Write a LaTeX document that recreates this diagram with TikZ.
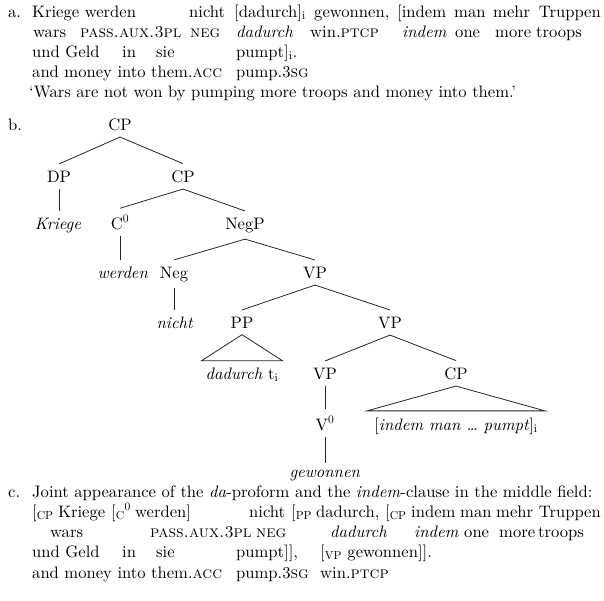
\documentclass[tikz,border=0pt]{standalone}
\usepackage{fontspec}
\setmainfont{lmroman10-regular.otf}[Ligatures=TeX,
  ItalicFont=lmroman10-italic.otf,
  BoldFont=lmroman10-bold.otf,
  SmallCapsFont=lmromancaps10-regular.otf]
\usetikzlibrary{calc}
\begin{document}
\begin{tikzpicture}[x=1pt,y=-1pt,
  every node/.style={font=\fontsize{16.6}{20}\selectfont, inner sep=0pt},
  w/.style={anchor=base west},
  e/.style={anchor=base east},
  t/.style={anchor=base, inner xsep=2pt, inner ysep=6.5pt},
  br/.style={line width=0.8pt, draw=black!85}]
\useasboundingbox (0,0) rectangle (604,600);

% ---- (a)
\node[w] (la) at (8,17) {a.};
\node[w] (a11) at (32,17) {Kriege werden};
\node[w] (a12) at (189,17) {nicht};
\node[w] (a13) at (234,17) {[dadurch]\textsubscript{i}};
\node[w] (a14) at (314,17) {gewonnen,};
\node[w] (a15) at (397,17) {[indem};
\node[w] (a16) at (454,17) {man};
\node[w] (a17) at (493,17) {mehr};
\node[e] (a18) at (601,17) {Truppen};

\node[w] (a21) at (33,37) {wars};
\node[w] (a22) at (80,37) {\textsc{pass.aux.3pl}};
\node[w] (a23) at (190,37) {\textsc{neg}};
\node[w] (a24) at (236,37) {\textit{dadurch}};
\node[w] (a25) at (310,37) {win.\textsc{ptcp}};
\node[w] (a26) at (402,37) {\textit{indem}};
\node[w] (a27) at (455,37) {one};
\node[w] (a28) at (495,37) {more};
\node[w] (a29) at (536,37) {troops};

\node[w] (a31) at (32,57) {und Geld};
\node[w] (a32) at (122,57) {in};
\node[w] (a33) at (156,57) {sie};
\node[w] (a34) at (236,57) {pumpt]\textsubscript{i}.};

\node[w] (a41) at (32,77) {and money into them.\textsc{acc}};
\node[w] (a45) at (236,77) {pump.3\textsc{sg}};

\node[w] (atr) at (29,97) {‘Wars are not won by pumping more troops and money into them.’};

% ---- (b)
\node[w] (lb) at (8,130) {b.};
\node[t] (cp1) at (120,130) {CP};
\node[t] (dp) at (59,182) {DP};
\node[t] (cp2) at (183,182) {CP};
\node[t] (kriege) at (58,229) {\textit{Kriege}};
\node[t] (c0) at (120,229) {C\textsuperscript{0}};
\node[t] (negp) at (245,229) {NegP};
\node[t] (werden) at (123,278) {\textit{werden}};
\node[t] (neg) at (174,278) {Neg};
\node[t] (vp1) at (315,278) {VP};
\node[t] (nicht) at (175,328) {\textit{nicht}};
\node[t] (pp) at (242,328) {PP};
\node[t] (vp2) at (390,328) {VP};
\node[t] (dad) at (242,379) {\textit{dadurch} t\textsubscript{i}};
\node[t] (vp3) at (325,379) {VP};
\node[t] (cp3) at (456,379) {CP};
\node[t] (v0) at (325,430) {V\textsuperscript{0}};
\node[t] (indem) at (456,430) {[\textit{indem man \dots\ pumpt}]\textsubscript{i}};
\node[t] (gew) at (325,477) {\textit{gewonnen}};

\draw[br] (cp1.south) -- (dp.north);
\draw[br] (cp1.south) -- (cp2.north);
\draw[br] (dp.south) -- (dp.south |- kriege.north);
\draw[br] (cp2.south) -- (c0.north);
\draw[br] (cp2.south) -- (negp.north);
\draw[br] (c0.south) -- (c0.south |- werden.north);
\draw[br] (negp.south) -- (neg.north);
\draw[br] (negp.south) -- (vp1.north);
\draw[br] (neg.south) -- (neg.south |- nicht.north);
\draw[br] (vp1.south) -- (pp.north);
\draw[br] (vp1.south) -- (vp2.north);
\draw[br] (pp.south) -- ($(dad.north west)+(-2,0)$) -- ($(dad.north east)+(2,0)$) -- cycle;
\draw[br] (vp2.south) -- (vp3.north);
\draw[br] (vp2.south) -- (cp3.north);
\draw[br] (vp3.south) -- (vp3.south |- v0.north);
\draw[br] (v0.south) -- (v0.south |- gew.north);
\draw[br] (cp3.south) -- ($(indem.north west)+(-5,0)$) -- ($(indem.north east)+(5,0)$) -- cycle;

% ---- (c)
\node[w] (lc) at (8,497) {c.};
\node[w] (c11) at (32,497) {Joint appearance of the \textit{da}-proform and the \textit{indem}-clause in the middle field:};

\node[w] (c21) at (32,517) {[\textsubscript{CP}};
\node[w] (c22) at (58,517) {Kriege};
\node[w] (c23) at (111,517) {[\textsubscript{C}\textsuperscript{0}};
\node[w] (c24) at (135,517) {werden]};
\node[w] (c25) at (249,517) {nicht};
\node[w] (c26) at (291,517) {[\textsubscript{PP}};
\node[w] (c27) at (316,517) {dadurch,};
\node[w] (c28) at (385,517) {[\textsubscript{CP}};
\node[w] (c29) at (411,517) {indem};
\node[w] (c2a) at (460,517) {man};
\node[w] (c2b) at (496,517) {mehr};
\node[e] (c2c) at (601,517) {Truppen};

\node[w] (c31) at (50,537) {wars};
\node[w] (c32) at (150,537) {\textsc{pass.aux.3pl}};
\node[w] (c33) at (256,537) {\textsc{neg}};
\node[w] (c34) at (330,537) {\textit{dadurch}};
\node[w] (c35) at (414,537) {\textit{indem}};
\node[w] (c36) at (464,537) {one};
\node[w] (c37) at (499,537) {more};
\node[w] (c38) at (538,537) {troops};

\node[w] (c41) at (32,557) {und Geld};
\node[w] (c42) at (122,557) {in};
\node[w] (c43) at (156,557) {sie};
\node[w] (c44) at (236,557) {pumpt]],};
\node[w] (c45) at (320,557) {[\textsubscript{VP} gewonnen]].};

\node[w] (c51) at (32,578) {and money into them.\textsc{acc}};
\node[w] (c55) at (236,578) {pump.3\textsc{sg}};
\node[w] (c56) at (320,578) {win.\textsc{ptcp}};
\end{tikzpicture}
\end{document}
